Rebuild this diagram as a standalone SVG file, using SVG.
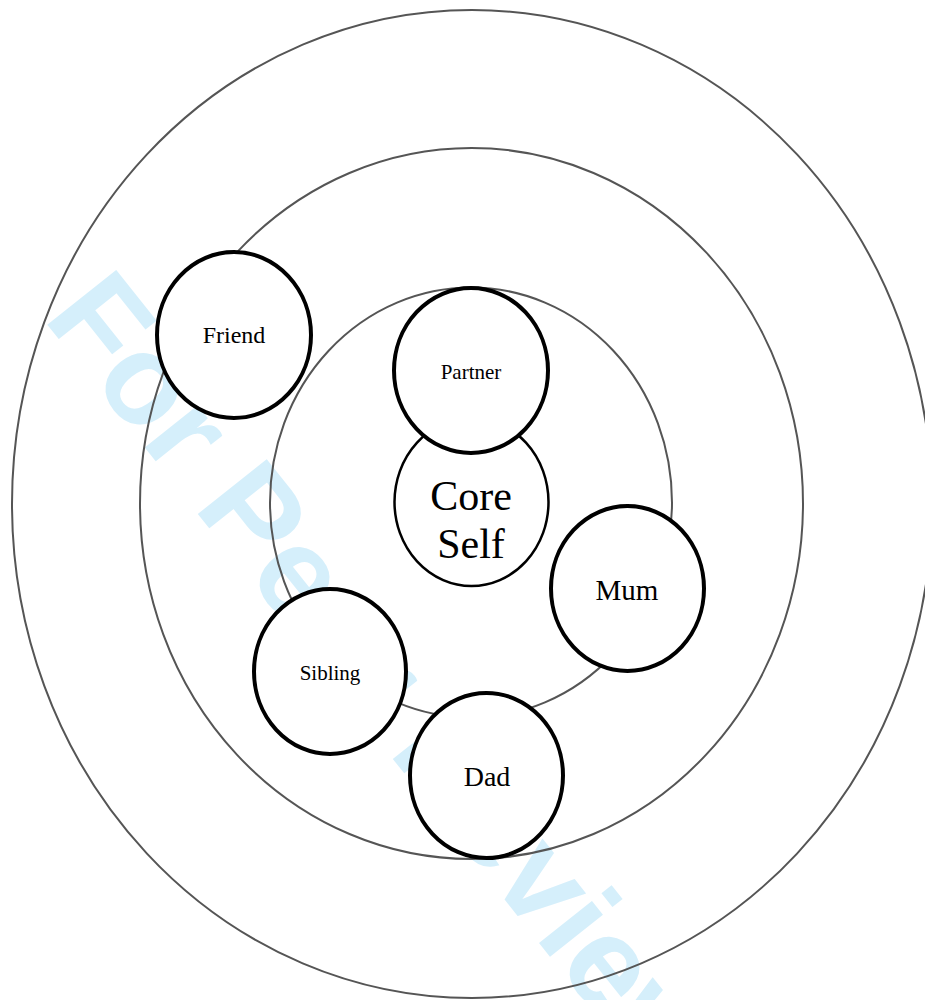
<svg xmlns="http://www.w3.org/2000/svg" width="925" height="1000" viewBox="0 0 925 1000">
<style>
.ring{fill:none;stroke:#555;stroke-width:2}
.node{fill:#fff;stroke:#000;stroke-width:4}
.core{fill:#fff;stroke:#000;stroke-width:2.5}
.lbl{font-family:"Liberation Serif","Times New Roman",serif;fill:#000;text-anchor:middle}
.wm{font-family:"Liberation Sans",Arial,sans-serif;font-weight:bold;font-size:128px;fill:#d5effb}
</style>
<rect width="925" height="1000" fill="#fff"/>
<text class="wm" transform="translate(42,318) rotate(51.5)">For Peer Review</text>
<g id="rings">
<ellipse id="ring-outer" class="ring" cx="472" cy="504" rx="460" ry="494"/>
<ellipse id="ring-middle" class="ring" cx="471.5" cy="503.5" rx="331.5" ry="355.5"/>
<ellipse id="ring-inner" class="ring" cx="471" cy="502.5" rx="201" ry="215"/>
</g>
<g id="connectors"></g>
<g id="core-self">
<ellipse class="core" cx="471.5" cy="502" rx="77" ry="84"/>
<text class="lbl" x="471" y="510" font-size="42">Core</text>
<text class="lbl" x="471" y="558" font-size="42">Self</text>
</g>
<g id="partner">
<ellipse class="node" cx="471" cy="370.5" rx="77" ry="82.5"/>
<text class="lbl" x="471" y="379" font-size="21">Partner</text>
</g>
<g id="friend">
<ellipse class="node" cx="234" cy="335" rx="77" ry="83"/>
<text class="lbl" x="234" y="343" font-size="24">Friend</text>
</g>
<g id="mum">
<ellipse class="node" cx="627.5" cy="588.5" rx="76.5" ry="82.5"/>
<text class="lbl" x="627" y="600" font-size="29">Mum</text>
</g>
<g id="sibling">
<ellipse class="node" cx="330" cy="671.5" rx="76" ry="82.5"/>
<text class="lbl" x="330" y="680" font-size="21">Sibling</text>
</g>
<g id="dad">
<ellipse class="node" cx="486.5" cy="775.5" rx="76.5" ry="82.5"/>
<text class="lbl" x="487" y="786" font-size="28">Dad</text>
</g>
</svg>
